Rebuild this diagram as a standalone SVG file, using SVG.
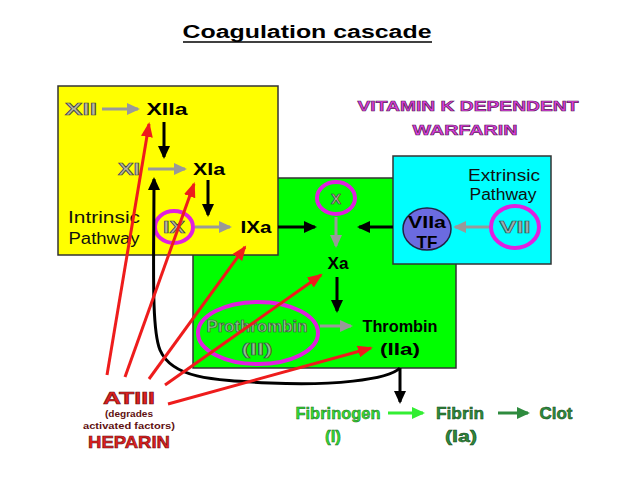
<svg xmlns="http://www.w3.org/2000/svg" width="638" height="479" viewBox="0 0 638 479">
<defs>
<style>
text{font-family:"Liberation Sans",Arial,sans-serif;text-anchor:middle}
.b{font-weight:bold;font-size:17px;fill:#000}
.r{font-size:16px;fill:#111}
.o{font-weight:bold;font-size:17px;fill:#b8b8a0;stroke:#444;stroke-width:0.7}
.og{font-weight:bold;font-size:16px;fill:#8fbf8f;stroke:#3a5a3a;stroke-width:0.7}
.m{font-weight:bold;font-size:15px;fill:#e040e0;stroke:#602060;stroke-width:0.7}
.rd{font-weight:bold;fill:#e02020;stroke:#701010;stroke-width:0.6}
.rs{font-weight:bold;font-size:9.5px;fill:#601010}
.box{stroke:#333;stroke-width:1.5}
.ring{fill:none;stroke:#e020e0;stroke-width:4}
.ab{stroke:#000;stroke-width:3;fill:none}
.ag{stroke:#999;stroke-width:3;fill:none}
.ar{stroke:#ee1c1c;stroke-width:3;fill:none}
</style>
<marker id="mb" markerUnits="userSpaceOnUse" markerWidth="14" markerHeight="12" refX="11" refY="6" orient="auto"><path d="M0,0 L13,6 L0,12 z" fill="#000"/></marker>
<marker id="mg" markerUnits="userSpaceOnUse" markerWidth="14" markerHeight="12" refX="11" refY="6" orient="auto"><path d="M0,0 L13,6 L0,12 z" fill="#999"/></marker>
<marker id="mr" markerUnits="userSpaceOnUse" markerWidth="16" markerHeight="12" refX="13" refY="6" orient="auto"><path d="M0,0 L15,6 L0,12 z" fill="#ee1c1c"/></marker>
<marker id="mlg" markerUnits="userSpaceOnUse" markerWidth="14" markerHeight="12" refX="11" refY="6" orient="auto"><path d="M0,0 L13,6 L0,12 z" fill="#33ee33"/></marker>
<marker id="mdg" markerUnits="userSpaceOnUse" markerWidth="14" markerHeight="12" refX="11" refY="6" orient="auto"><path d="M0,0 L13,6 L0,12 z" fill="#2e8b3e"/></marker>
</defs>
<rect width="638" height="479" fill="#fff"/>
<g id="title">
<text x="307" y="38" style="font-weight:bold;font-size:18px" textLength="249" lengthAdjust="spacingAndGlyphs">Coagulation cascade</text>
<line x1="183" y1="42" x2="432" y2="42" stroke="#000" stroke-width="1.5"/>
</g>
<g id="common-pathway"><rect class="box" x="193" y="178" width="263" height="190" fill="#00ff00"/></g>
<g id="intrinsic-pathway"><rect class="box" x="58" y="86" width="220" height="169" fill="#ffff00"/>
<text class="r" x="104" y="223" textLength="72" lengthAdjust="spacingAndGlyphs">Intrinsic</text>
<text class="r" x="104" y="244" textLength="71" lengthAdjust="spacingAndGlyphs">Pathway</text></g>
<g id="extrinsic-pathway"><rect class="box" x="393" y="156" width="158" height="108" fill="#00ffff"/>
<text class="r" x="504" y="181" textLength="72" lengthAdjust="spacingAndGlyphs">Extrinsic</text>
<text class="r" x="503" y="200" textLength="67" lengthAdjust="spacingAndGlyphs">Pathway</text></g>
<g id="vitk"><text class="m" x="468" y="111" textLength="221" lengthAdjust="spacingAndGlyphs">VITAMIN K DEPENDENT</text>
<text class="m" x="465" y="135" textLength="105" lengthAdjust="spacingAndGlyphs">WARFARIN</text></g>
<g id="XII"><text class="o" x="81" y="115" textLength="32" lengthAdjust="spacingAndGlyphs">XII</text></g>
<g id="XIIa"><text class="b" x="167" y="115" textLength="41" lengthAdjust="spacingAndGlyphs">XIIa</text></g>
<g id="XI"><text class="o" x="129" y="175" textLength="22" lengthAdjust="spacingAndGlyphs">XI</text></g>
<g id="XIa"><text class="b" x="209" y="175" textLength="32" lengthAdjust="spacingAndGlyphs">XIa</text></g>
<g id="IX"><ellipse class="ring" cx="174" cy="227" rx="19" ry="16"/><text class="o" x="174" y="233" textLength="22" lengthAdjust="spacingAndGlyphs">IX</text></g>
<g id="IXa"><text class="b" x="256" y="233" textLength="31" lengthAdjust="spacingAndGlyphs">IXa</text></g>
<g id="X"><ellipse class="ring" cx="336" cy="198" rx="19" ry="16"/><text class="o" x="336" y="204" style="font-size:15px">X</text></g>
<g id="Xa"><text class="b" x="338" y="269" textLength="21" lengthAdjust="spacingAndGlyphs">Xa</text></g>
<g id="VIIa-TF"><ellipse cx="427" cy="229" rx="24" ry="21" fill="#6b6be0" stroke="#222244" stroke-width="1.5"/>
<text class="b" x="427" y="228" textLength="38" lengthAdjust="spacingAndGlyphs">VIIa</text>
<text class="b" x="427" y="248">TF</text></g>
<g id="VII"><ellipse class="ring" cx="515" cy="227" rx="24" ry="21"/><text class="o" x="515" y="233" style="fill:#9ab0b0;stroke:#335555" textLength="31" lengthAdjust="spacingAndGlyphs">VII</text></g>
<g id="prothrombin"><ellipse class="ring" cx="258" cy="333" rx="60" ry="31"/>
<text class="og" x="257" y="332" textLength="101" lengthAdjust="spacingAndGlyphs">Prothrombin</text>
<text class="og" x="257" y="355" textLength="31" lengthAdjust="spacingAndGlyphs">(II)</text></g>
<g id="thrombin"><text class="b" x="400" y="332" textLength="75" lengthAdjust="spacingAndGlyphs">Thrombin</text>
<text class="b" x="400" y="355" textLength="40" lengthAdjust="spacingAndGlyphs">(IIa)</text></g>
<g id="fibrinogen"><text class="b" x="338" y="419" style="fill:#33dd33;stroke:#1a6a1a;stroke-width:0.5" textLength="85" lengthAdjust="spacingAndGlyphs">Fibrinogen</text>
<text class="b" x="333" y="442" style="fill:#33dd33;stroke:#1a6a1a;stroke-width:0.5">(I)</text></g>
<g id="fibrin"><text class="b" x="460" y="419" style="fill:#2e8b3e;stroke:#114411;stroke-width:0.5" textLength="48" lengthAdjust="spacingAndGlyphs">Fibrin</text>
<text class="b" x="461" y="442" style="fill:#2e8b3e;stroke:#114411;stroke-width:0.5" textLength="32" lengthAdjust="spacingAndGlyphs">(Ia)</text></g>
<g id="clot"><text class="b" x="556" y="419" style="fill:#2e8b3e;stroke:#114411;stroke-width:0.5" textLength="33" lengthAdjust="spacingAndGlyphs">Clot</text></g>
<g id="ATIII-heparin">
<text class="rd" x="129" y="404" style="font-size:16px" textLength="52" lengthAdjust="spacingAndGlyphs">ATIII</text>
<text class="rs" x="129" y="417" textLength="48" lengthAdjust="spacingAndGlyphs">(degrades</text>
<text class="rs" x="129" y="429" textLength="92" lengthAdjust="spacingAndGlyphs">activated factors)</text>
<text class="rd" x="129" y="448" style="font-size:17px" textLength="82" lengthAdjust="spacingAndGlyphs">HEPARIN</text>
</g>
<g id="connectors">
<line class="ag" x1="102" y1="109" x2="138" y2="109" marker-end="url(#mg)"/>
<line class="ab" x1="164" y1="122" x2="164" y2="157" marker-end="url(#mb)"/>
<line class="ag" x1="148" y1="169" x2="185" y2="169" marker-end="url(#mg)"/>
<line class="ab" x1="208" y1="180" x2="208" y2="215" marker-end="url(#mb)"/>
<line class="ag" x1="195" y1="227" x2="230" y2="227" marker-end="url(#mg)"/>
<line class="ab" x1="278" y1="227" x2="315" y2="227" marker-end="url(#mb)"/>
<line class="ag" x1="336" y1="217" x2="336" y2="246" marker-end="url(#mg)"/>
<line class="ab" x1="393" y1="227" x2="359" y2="227" marker-end="url(#mb)"/>
<line class="ag" x1="489" y1="227" x2="455" y2="227" marker-end="url(#mg)"/>
<line class="ab" x1="337" y1="277" x2="337" y2="311" marker-end="url(#mb)"/>
<line class="ag" x1="320" y1="326" x2="351" y2="326" marker-end="url(#mg)"/>
<line class="ab" x1="400" y1="368" x2="400" y2="402" marker-end="url(#mb)"/>
<line x1="388" y1="413" x2="423" y2="413" stroke="#33ee33" stroke-width="3" marker-end="url(#mlg)"/>
<line x1="498" y1="413" x2="528" y2="413" stroke="#2e8b3e" stroke-width="3" marker-end="url(#mdg)"/>
<path class="ab" d="M400,368 C388,380 330,386 270,383 C210,380 172,378 160,350 C151,328 154,260 154,179" marker-end="url(#mb)"/>
<line class="ar" x1="107" y1="375" x2="149" y2="124" marker-end="url(#mr)"/>
<line class="ar" x1="125" y1="377" x2="194" y2="184" marker-end="url(#mr)"/>
<line class="ar" x1="149" y1="379" x2="245" y2="247" marker-end="url(#mr)"/>
<line class="ar" x1="165" y1="385" x2="321" y2="275" marker-end="url(#mr)"/>
<line class="ar" x1="168" y1="404" x2="371" y2="348" marker-end="url(#mr)"/>
</g>
</svg>
